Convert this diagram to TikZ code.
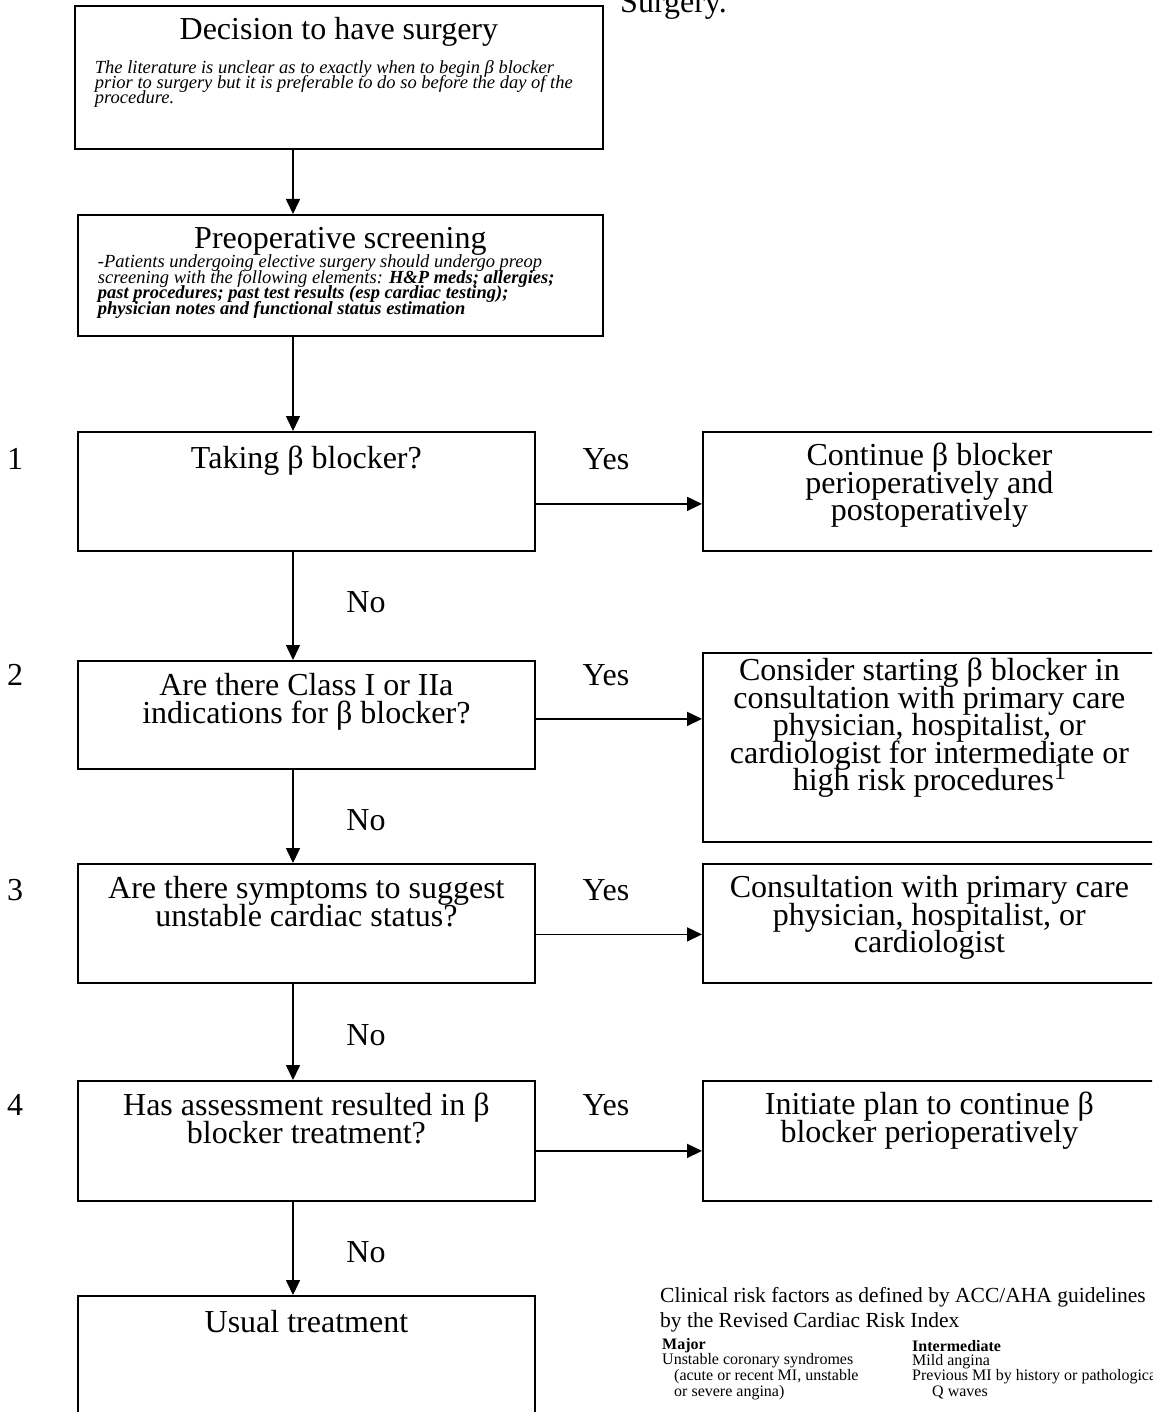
\documentclass[tikz,border=0pt]{standalone}
\usepackage{fontspec}
\setmainfont{Liberation Serif}
\usetikzlibrary{arrows.meta,positioning}

\tikzset{
  box/.style={draw, line width=1.8pt, inner sep=0pt, anchor=north west},
  flow/.style={line width=1.6pt, -{Triangle[length=15pt,width=14pt]}},
  lbl/.style={inner sep=0pt, font=\fontsize{32}{32}\selectfont},
  note/.style={inner sep=0pt, anchor=base west, align=left},
}
% text set at the top of a box: width, height, first baseline, text
\newcommand{\boxtext}[4]{\parbox[t][#2pt][t]{#1pt}{\centering\lineskiplimit=-100pt
  \fontsize{32}{27.5}\selectfont\rule{0pt}{#3pt}#4\par}}

\begin{document}
\begin{tikzpicture}[x=1pt,y=-1pt]
\useasboundingbox (0,0) rectangle (1152,1412);
\clip (0,0) rectangle (1152,1412);

\coordinate (ax) at (293,0);

% top part
\node[box] (dec) at (74,5) {\parbox[t][143pt][t]{528pt}{\centering\lineskiplimit=-100pt
  \fontsize{32}{32}\selectfont\rule{0pt}{34pt}Decision to have surgery\par
  \vspace{19pt}\raggedright\leftskip=20pt\itshape\fontsize{18.5}{15}\selectfont
  The literature is unclear as to exactly when to begin β blocker\\
  prior to surgery but it is preferable to do so before the day of the\\
  procedure.\par}};
\node[lbl, anchor=base west] (surg) at (620,13) {Surgery.};

\node[box] (pre) at (77,214) {\parbox[t][121pt][t]{525pt}{\centering\lineskiplimit=-100pt
  \fontsize{32}{32}\selectfont\rule{0pt}{34pt}Preoperative screening\par
  \vspace{3.5pt}\raggedright\leftskip=20pt\itshape\fontsize{18.5}{15.5}\selectfont
  -Patients undergoing elective surgery should undergo preop\\
  screening with the following elements: \textbf{H\&P meds; allergies;}\\
  \textbf{past procedures; past test results (esp cardiac testing);}\\
  \textbf{physician notes and functional status estimation}\par}};

% questions
\node[box] (q1) at (77,431) {\boxtext{457}{119}{37}{Taking β blocker?}};
\node[box] (q2) at (77,660) {\boxtext{457}{108}{35}{Are there Class I or IIa\\indications for β blocker?}};
\node[box] (q3) at (77,863) {\boxtext{457}{119}{35}{Are there symptoms to suggest\\unstable cardiac status?}};
\node[box] (q4) at (77,1080) {\boxtext{457}{120}{35}{Has assessment resulted in β\\blocker treatment?}};
\node[box] (q5) at (77,1295) {\boxtext{457}{130}{37}{Usual treatment}};

% answers
\node[box] (r1) at (702,431) {\boxtext{453}{119}{34}{Continue β blocker\\perioperatively and\\postoperatively}};
\node[box] (r2) at (702,652) {\boxtext{453}{189}{28}{Consider starting β blocker in\\consultation with primary care\\physician, hospitalist, or\\cardiologist for intermediate or\\high risk procedures\raisebox{11pt}{\fontsize{24}{24}\selectfont 1}}};
\node[box] (r3) at (702,863) {\boxtext{453}{119}{34}{Consultation with primary care\\physician, hospitalist, or\\cardiologist}};
\node[box] (r4) at (702,1080) {\boxtext{453}{120}{34}{Initiate plan to continue β\\blocker perioperatively}};

% step numbers
\node[lbl] (n1) at (15,459) {1};
\node[lbl] (n2) at (15,675) {2};
\node[lbl] (n3) at (15,890) {3};
\node[lbl] (n4) at (15,1105) {4};

% yes / no
\node[lbl] (y1) at (606,459) {Yes};
\node[lbl] (y2) at (606,675) {Yes};
\node[lbl] (y3) at (606,890) {Yes};
\node[lbl] (y4) at (606,1105) {Yes};
\node[lbl] (no1) at (366,602) {No};
\node[lbl] (no2) at (366,820) {No};
\node[lbl] (no3) at (366,1035) {No};
\node[lbl] (no4) at (366,1252) {No};

% arrows down
\draw[flow] (dec.south -| ax) -- (pre.north -| ax);
\draw[flow] (pre.south -| ax) -- (q1.north -| ax);
\draw[flow] (q1.south -| ax) -- (q2.north -| ax);
\draw[flow] (q2.south -| ax) -- (q3.north -| ax);
\draw[flow] (q3.south -| ax) -- (q4.north -| ax);
\draw[flow] (q4.south -| ax) -- (q5.north -| ax);

% arrows right
\draw[flow] ([yshift=-12.5]q1.east) -- ([yshift=-12.5]q1.east -| r1.west);
\draw[flow] ([yshift=-4]q2.east) -- ([yshift=-4]q2.east -| r2.west);
\draw[flow] ([yshift=-11]q3.east) -- ([yshift=-11]q3.east -| r3.west);
\draw[flow] ([yshift=-10]q4.east) -- ([yshift=-10]q4.east -| r4.west);

% risk factors (base is the last line)
\node[note, font=\fontsize{21.5}{25}\selectfont] (risk) at (660,1327)
  {Clinical risk factors as defined by ACC/AHA guidelines\\by the Revised Cardiac Risk Index};
\node[note, font=\fontsize{16}{14}\selectfont] (major) at (662,1396)
  {\textbf{Major}\\Unstable coronary syndromes\\\hspace{12pt}(acute or recent MI, unstable\\\hspace{12pt}or severe angina)};
\node[note, font=\fontsize{16}{14}\selectfont] (inter) at (912,1396)
  {\textbf{Intermediate}\\Mild angina\\Previous MI by history or pathological\\\hspace{20pt}Q waves};
\end{tikzpicture}
\end{document}
